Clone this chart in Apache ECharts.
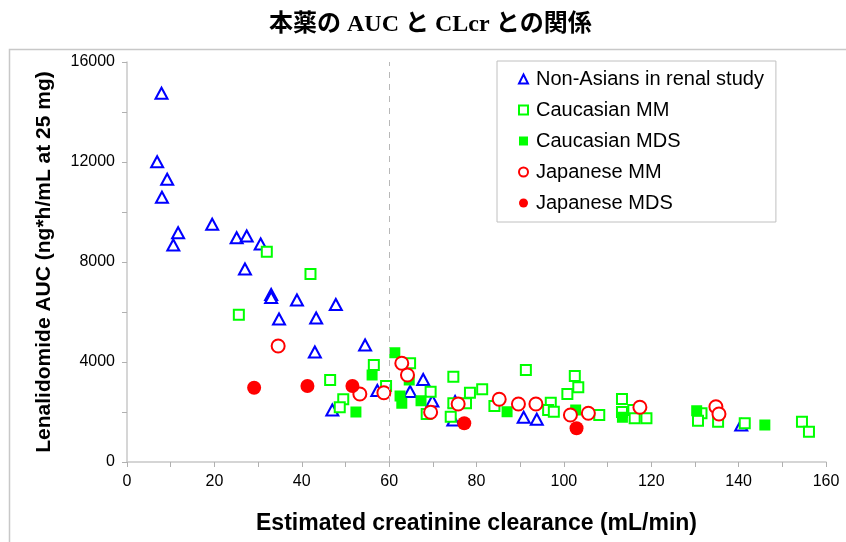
<!DOCTYPE html>
<html>
<head>
<meta charset="utf-8">
<script src="https://cdn.jsdelivr.net/npm/echarts@6/dist/echarts.min.js"></script>
<style>
  html, body { margin: 0; padding: 0; background: #fff; }
  #chart { width: 846px; height: 542px; }
</style>
</head>
<body>
<div id="chart"></div>
<script>
// Estimated creatinine clearance (mL/min) vs lenalidomide AUC (ng*h/mL), points as [CLcr, AUC]
const nonAsiansRenal = [
  [7.9, 14750], [6.9, 12010], [9.2, 11310], [8.0, 10590], [11.7, 9170], [10.6, 8680],
  [19.5, 9510], [25.1, 8970], [27.4, 9040], [30.6, 8720], [27.0, 7720], [33.0, 6700],
  [33.0, 6580], [38.9, 6480], [47.8, 6300], [34.8, 5720], [43.3, 5760], [43.0, 4400],
  [54.5, 4680], [47.0, 2080], [57.3, 2860], [64.8, 2820], [67.8, 3300], [69.9, 2440],
  [74.7, 1680], [75.1, 2420], [90.8, 1790], [93.8, 1710], [140.6, 1480]
];
const caucasianMM = [
  [32.0, 8410], [42.0, 7520], [25.6, 5890], [46.5, 3280], [49.5, 2510], [48.7, 2190],
  [56.5, 3880], [64.8, 3950], [59.3, 3040], [74.7, 3410], [69.5, 2810], [68.6, 1920],
  [78.5, 2770], [81.3, 2910], [74.7, 2350], [77.6, 2350], [74.1, 1810], [84.1, 2240],
  [91.3, 3680], [97.0, 2370], [96.4, 2080], [97.7, 2010], [102.5, 3440], [103.3, 2990],
  [100.8, 2720], [108.1, 1880], [113.3, 2520], [113.3, 2000], [115.9, 2080], [116.2, 1750],
  [118.9, 1750], [131.5, 1950], [130.7, 1650], [135.3, 1610], [141.4, 1550], [154.5, 1610],
  [156.1, 1210]
];
const caucasianMDS = [
  [52.4, 2000], [61.3, 4370], [56.1, 3480], [64.6, 3280], [62.5, 2640], [62.9, 2350],
  [67.3, 2450], [87.0, 2010], [102.7, 2080], [113.4, 1790], [130.4, 2050], [146.0, 1480]
];
const japaneseMM = [
  [34.6, 4640], [53.3, 2720], [62.9, 3950], [64.2, 3480], [58.8, 2770], [69.5, 1990],
  [75.8, 2320], [85.2, 2510], [89.6, 2320], [93.6, 2320], [101.5, 1880], [105.6, 1950],
  [117.4, 2190], [134.8, 2210], [135.5, 1920]
];
const japaneseMDS = [
  [29.1, 2970], [41.3, 3040], [51.6, 3040], [77.2, 1550], [102.9, 1350]
];

const seriesNames = ['Non-Asians in renal study', 'Caucasian MM', 'Caucasian MDS', 'Japanese MM', 'Japanese MDS'];
const titleText = '本薬の AUC と CLcr との関係';
const xAxisTitle = 'Estimated creatinine clearance (mL/min)';
const yAxisTitle = 'Lenalidomide AUC (ng*h/mL at 25 mg)';
const cutoffCLcr = 60;

const BLUE = '#0000ff', GREEN = '#00ff00', RED = '#ff0000';
const sansFont = '"Liberation Sans", Arial, sans-serif';

function scatter(name, data, symbol, size, color, filled, extra) {
  return Object.assign({
    name: name,
    type: 'scatter',
    data: data,
    symbol: symbol,
    symbolSize: size,
    itemStyle: filled
      ? { color: color, borderColor: color, borderWidth: 0, opacity: 1 }
      : { color: '#ffffff', borderColor: color, borderWidth: 2, opacity: 1 },
    emphasis: { disabled: true },
    silent: true
  }, extra || {});
}

const chart = echarts.init(document.getElementById('chart'), null, { renderer: 'canvas' });

chart.setOption({
  animation: false,
  backgroundColor: '#ffffff',
  title: {
    text: titleText,
    left: 264,
    top: 8,
    textStyle: {
      fontFamily: '"Liberation Serif", "Times New Roman", "Noto Sans CJK JP", serif',
      fontWeight: 'bold',
      fontSize: 24,
      color: '#000'
    }
  },
  graphic: [{
    type: 'rect',
    left: 7, top: 47,
    shape: { width: 860, height: 520 },
    style: { fill: 'none', stroke: '#c8c8c8', lineWidth: 1.5 },
    silent: true, z: -1
  }],
  grid: { left: 127, top: 62, right: 20, bottom: 80, containLabel: false },
  legend: {
    orient: 'vertical',
    left: 497,
    top: 61,
    padding: [8, 12, 9, 21],
    itemGap: 11,
    itemWidth: 9,
    itemHeight: 9,
    borderColor: '#c0c0c0',
    borderWidth: 1,
    backgroundColor: '#ffffff',
    textStyle: { fontFamily: sansFont, fontSize: 20, color: '#000', padding: [0, 0, 0, 3] },
    selectedMode: false,
    data: seriesNames.map(function (n, i) {
      const shapes = ['triangle', 'rect', 'rect', 'circle', 'circle'];
      return { name: n, icon: shapes[i] };
    })
  },
  xAxis: {
    type: 'value',
    min: 0, max: 160, interval: 20,
    name: xAxisTitle,
    nameLocation: 'middle',
    nameGap: 50,
    nameTextStyle: { fontFamily: sansFont, fontWeight: 'bold', fontSize: 23, color: '#000' },
    axisLine: { show: true, lineStyle: { color: '#c8c8c8', width: 1.5 } },
    axisTick: { show: true, inside: false, length: 5, lineStyle: { color: '#b0b0b0' } },
    minorTick: { show: true, splitNumber: 2, length: 5, lineStyle: { color: '#b0b0b0' } },
    axisLabel: { margin: 12, fontFamily: sansFont, fontSize: 16, color: '#000' },
    splitLine: { show: false }
  },
  yAxis: {
    type: 'value',
    min: 0, max: 16000, interval: 4000,
    name: yAxisTitle,
    nameLocation: 'middle',
    nameGap: 72,
    nameRotate: 90,
    nameTextStyle: { fontFamily: sansFont, fontWeight: 'bold', fontSize: 21, color: '#000' },
    axisLine: { show: true, lineStyle: { color: '#c8c8c8', width: 1.5 } },
    axisTick: { show: true, inside: false, length: 5, lineStyle: { color: '#b0b0b0' } },
    minorTick: { show: true, splitNumber: 2, length: 5, lineStyle: { color: '#b0b0b0' } },
    axisLabel: { margin: 12, fontFamily: sansFont, fontSize: 16, color: '#000',
      formatter: function (v) { return String(v); } },
    splitLine: { show: false }
  },
  series: [
    scatter(seriesNames[0], nonAsiansRenal, 'triangle', [12, 11], BLUE, false, {
      markLine: {
        silent: true,
        symbol: 'none',
        label: { show: false },
        lineStyle: { color: '#b8b8b8', type: [6, 6], width: 1 },
        data: [{ xAxis: cutoffCLcr }]
      }
    }),
    scatter(seriesNames[1], caucasianMM, 'rect', 10, GREEN, false),
    scatter(seriesNames[2], caucasianMDS, 'rect', 11, GREEN, true),
    scatter(seriesNames[3], japaneseMM, 'circle', 13, RED, false),
    scatter(seriesNames[4], japaneseMDS, 'circle', 14, RED, true)
  ]
});
</script>
</body>
</html>
